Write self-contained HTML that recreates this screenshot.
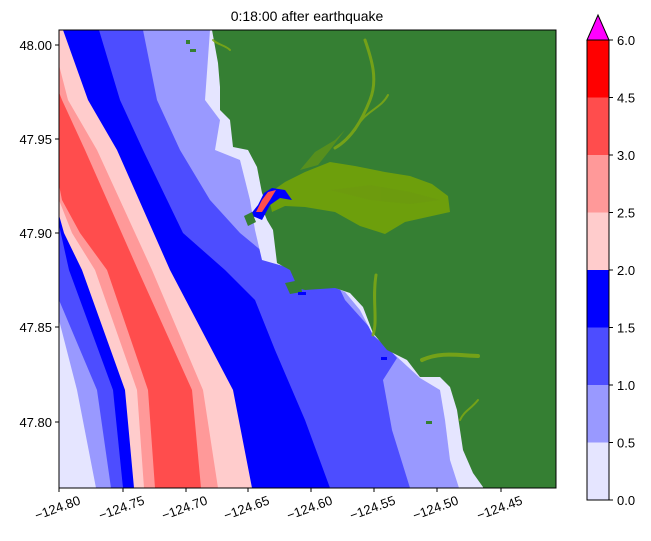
<!DOCTYPE html>
<html><head><meta charset="utf-8"><style>
html,body{margin:0;padding:0;background:#fff;}
svg{display:block;font-family:"Liberation Sans","DejaVu Sans",sans-serif;}
</style></head><body>
<svg width="651" height="541" viewBox="0 0 651 541" xmlns="http://www.w3.org/2000/svg">
<defs><clipPath id="c"><rect x="59" y="30" width="497" height="458"/></clipPath></defs>
<g clip-path="url(#c)">
<rect x="40" y="0" width="600" height="520" fill="#e5e5ff"/>
<polygon fill="#9999ff" points="-100,-10 -100,30 20,250 59,320 77,390 96,488 96,520 700,520 700,-10"/>
<polygon fill="#4d4dff" points="-50,-10 -50,30 30,230 59,300 97,390 111,488 111,520 700,520 700,-10"/>
<polygon fill="#0000ff" points="-20,-10 -20,30 50,200 59,225 69,270 113,390 123,488 123,520 700,520 700,-10"/>
<polygon fill="#ffcccc" points="0,-10 0,30 59,215 64,233 82,270 125,390 134,488 134,520 700,520 700,-10"/>
<polygon fill="#ff9999" points="40,-10 40,30 59,60 50,130 55,190 72,233 95,270 137,390 144,488 144,520 700,520 700,-10"/>
<polygon fill="#ff4d4d" points="30,-10 30,30 59,100 52,150 62,200 80,233 107,270 148,390 155,488 155,520 700,520 700,-10"/>
<polygon fill="#ff9999" points="35,-10 35,30 62,100 85,150 138,270 192,390 201,488 201,520 700,520 700,-10"/>
<polygon fill="#ffcccc" points="50,-10 50,30 68,100 97,150 152,270 203,390 218,488 218,520 700,520 700,-10"/>
<polygon fill="#0000ff" points="63,-10 63,30 88,100 117,150 170,270 233,390 252,488 252,520 700,520 700,-10"/>
<polygon fill="#4d4dff" points="99,-10 99,30 120,100 143,150 183,233 225,270 255,300 275,350 305,420 330,488 330,520 700,520 700,-10"/>
<polygon fill="#9999ff" points="143,-10 143,30 157,100 180,150 210,200 240,233 275,262 330,268 345,300 397,358 383,380 392,430 410,488 410,520 700,520 700,-10"/>
<polygon fill="#e5e5ff" points="210,-10 210,30 205,100 220,120 215,150 240,160 250,200 255,230 262,260 290,268 345,292 360,310 373,335 395,355 420,378 440,390 445,420 450,460 459,488 459,520 700,520 700,-10"/>
<polygon fill="#357f33" points="212,0 212,30 218,63 220,87 220,110 230,120 233,147 248,150 257,167 262,193 265,200 258,208 250,214 265,215 267,220 273,230 277,263 290,270 298,288 305,290 335,288 350,293 363,307 373,333 387,350 407,360 420,377 440,377 450,387 457,410 463,450 473,473 483,487 483,520 600,520 600,0"/>
<polygon fill="#357f33" points="285,283 300,280 302,292 290,294"/>
<g fill="#80aa00" opacity="0.75">
<polygon points="268,194 285,182 305,172 330,162 355,166 385,172 410,176 432,184 448,196 450,212 432,216 405,222 385,234 360,226 335,212 305,207 285,206 272,212"/>
</g>
<g fill="#6d9a10" opacity="0.6">
<polygon points="300,170 315,152 335,140 345,130 330,150 318,165"/>
<polygon points="330,190 370,185 410,192 440,200 410,204 370,200"/>
</g>
<g fill="none" stroke="#7fa814" stroke-linecap="round" opacity="0.85">
<path d="M335,148 C352,138 362,120 370,100 C378,80 372,60 365,40" stroke-width="3"/>
<path d="M355,130 C365,110 380,110 388,95" stroke-width="2"/>
<path d="M373,335 C378,320 372,300 376,275" stroke-width="3"/>
<path d="M422,360 C440,352 455,355 478,356" stroke-width="4"/>
<path d="M460,420 C465,410 470,410 478,400" stroke-width="2"/>
<path d="M213,40 C218,45 225,45 230,50" stroke-width="2"/>
</g>
<polygon fill="#0000ff" points="250,215 258,205 264,193 272,188 285,190 292,200 280,198 270,205 262,220"/>
<polygon fill="#ff4d4d" points="256,212 262,200 268,192 276,190 270,200 262,212"/>
<polygon fill="#357f33" points="244,216 252,212 256,222 248,226"/>
<rect x="186" y="40" width="4" height="4" fill="#357f33"/>
<rect x="190" y="49" width="6" height="3" fill="#357f33"/>
<rect x="298" y="292" width="8" height="3" fill="#0000ff"/>
<rect x="381" y="357" width="6" height="3" fill="#0000ff"/>
<rect x="426" y="421" width="6" height="3" fill="#357f33"/>
</g>
<rect x="59" y="30" width="497" height="458" fill="none" stroke="#000" stroke-width="1"/>
<text x="307" y="21" font-size="14" text-anchor="middle">0:18:00 after earthquake</text>
<g stroke="#000"><line x1="55" y1="45" x2="59" y2="45"/><line x1="55" y1="139" x2="59" y2="139"/><line x1="55" y1="233" x2="59" y2="233"/><line x1="55" y1="327" x2="59" y2="327"/><line x1="55" y1="422" x2="59" y2="422"/></g>
<g font-size="13" text-anchor="end">
<text x="52" y="50">48.00</text><text x="52" y="144">47.95</text><text x="52" y="238">47.90</text><text x="52" y="332">47.85</text><text x="52" y="427">47.80</text>
</g>
<g stroke="#000"><line x1="59" y1="488" x2="59" y2="492"/><line x1="123" y1="488" x2="123" y2="492"/><line x1="186" y1="488" x2="186" y2="492"/><line x1="248" y1="488" x2="248" y2="492"/><line x1="311" y1="488" x2="311" y2="492"/><line x1="374" y1="488" x2="374" y2="492"/><line x1="437" y1="488" x2="437" y2="492"/><line x1="501" y1="488" x2="501" y2="492"/></g>
<g font-size="13" text-anchor="middle">
<text transform="translate(59,512) rotate(-20)">−124.80</text>
<text transform="translate(123,512) rotate(-20)">−124.75</text>
<text transform="translate(186,512) rotate(-20)">−124.70</text>
<text transform="translate(248,512) rotate(-20)">−124.65</text>
<text transform="translate(311,512) rotate(-20)">−124.60</text>
<text transform="translate(374,512) rotate(-20)">−124.55</text>
<text transform="translate(437,512) rotate(-20)">−124.50</text>
<text transform="translate(501,512) rotate(-20)">−124.45</text>
</g>
<rect x="587" y="442.5" width="22" height="57.5" fill="#e5e5ff"/>
<rect x="587" y="385" width="22" height="57.5" fill="#9999ff"/>
<rect x="587" y="327.5" width="22" height="57.5" fill="#4d4dff"/>
<rect x="587" y="270" width="22" height="57.5" fill="#0000ff"/>
<rect x="587" y="212.5" width="22" height="57.5" fill="#ffcccc"/>
<rect x="587" y="155" width="22" height="57.5" fill="#ff9999"/>
<rect x="587" y="97.5" width="22" height="57.5" fill="#ff4d4d"/>
<rect x="587" y="40" width="22" height="57.5" fill="#ff0000"/>
<polygon points="587,40 609,40 598,15" fill="#ff00ff" stroke="#000" stroke-width="1"/>
<polyline points="587,40 587,500 609,500 609,40" fill="none" stroke="#000" stroke-width="1"/>
<g stroke="#000"><line x1="609" y1="500" x2="613" y2="500"/><line x1="609" y1="442.5" x2="613" y2="442.5"/><line x1="609" y1="385" x2="613" y2="385"/><line x1="609" y1="327.5" x2="613" y2="327.5"/><line x1="609" y1="270" x2="613" y2="270"/><line x1="609" y1="212.5" x2="613" y2="212.5"/><line x1="609" y1="155" x2="613" y2="155"/><line x1="609" y1="97.5" x2="613" y2="97.5"/><line x1="609" y1="40" x2="613" y2="40"/></g>
<g font-size="13">
<text x="617" y="505">0.0</text><text x="617" y="447.5">0.5</text><text x="617" y="390">1.0</text><text x="617" y="332.5">1.5</text><text x="617" y="275">2.0</text><text x="617" y="217.5">2.5</text><text x="617" y="160">3.0</text><text x="617" y="102.5">4.5</text><text x="617" y="45">6.0</text>
</g>
</svg>
</body></html>
